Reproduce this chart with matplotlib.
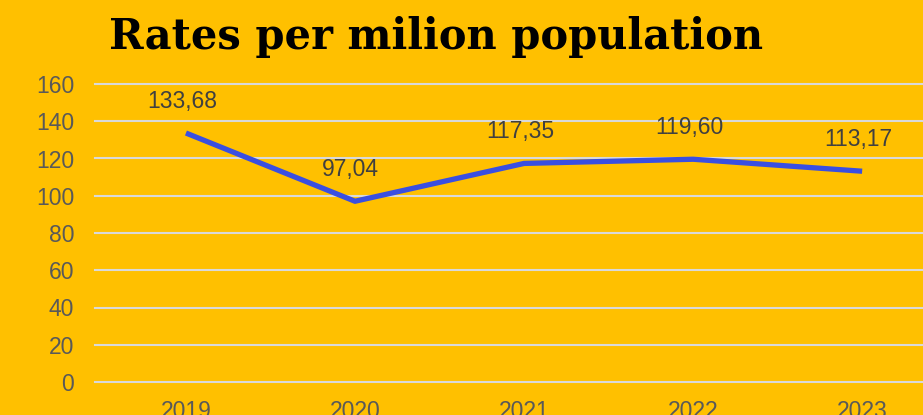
from matplotlib import pyplot as plt

# chart data
years = ["2019", "2020", "2021", "2022", "2023"]
rates = [133.68, 97.04, 117.35, 119.60, 113.17]
y_ticks = [0, 20, 40, 60, 80, 100, 120, 140, 160]

bg = "#FFC000"

fig = plt.figure(figsize=(9.23, 4.15), dpi=100)
fig.patch.set_facecolor(bg)

# axes runs off the right edge like the original
ax = fig.add_axes([95 / 923, 33 / 415, 828 / 923, 298 / 415])
ax.set_facecolor(bg)

x = list(range(len(years)))
ax.plot(x, rates, color="#3A4FE0", linewidth=3.8, solid_capstyle="butt", zorder=3)

# data labels above each point
for xi, v in zip(x, rates):
    ax.annotate(f"{v:.2f}".replace(".", ","), (xi, v), xytext=(-3, 23),
                textcoords="offset points", ha="center", va="center",
                fontsize=16.5, color="#404040", family="Liberation Sans")

ax.set_xlim(-0.538, 4.36)
ax.set_ylim(0, 160)
ax.set_xticks(x)
ax.set_xticklabels(years)
ax.set_yticks(y_ticks)
ax.grid(axis="y", color="#D9D9D9", linewidth=1.5)
for gl in ax.get_ygridlines():
    gl.set_clip_on(False)
ax.set_axisbelow(True)
for s in ax.spines.values():
    s.set_visible(False)
ax.tick_params(length=0, labelsize=16.5, labelcolor="#595959")
ax.tick_params(axis="y", pad=15)
ax.tick_params(axis="x", pad=13)
for lbl in ax.get_xticklabels() + ax.get_yticklabels():
    lbl.set_family("Liberation Sans")

fig.text(436 / 923, 1 - 37 / 415, "Rates per milion population", ha="center", va="center",
         fontsize=30, fontweight="heavy", family="DejaVu Serif", color="black")

fig.savefig("out.png", dpi=100, facecolor=bg)
